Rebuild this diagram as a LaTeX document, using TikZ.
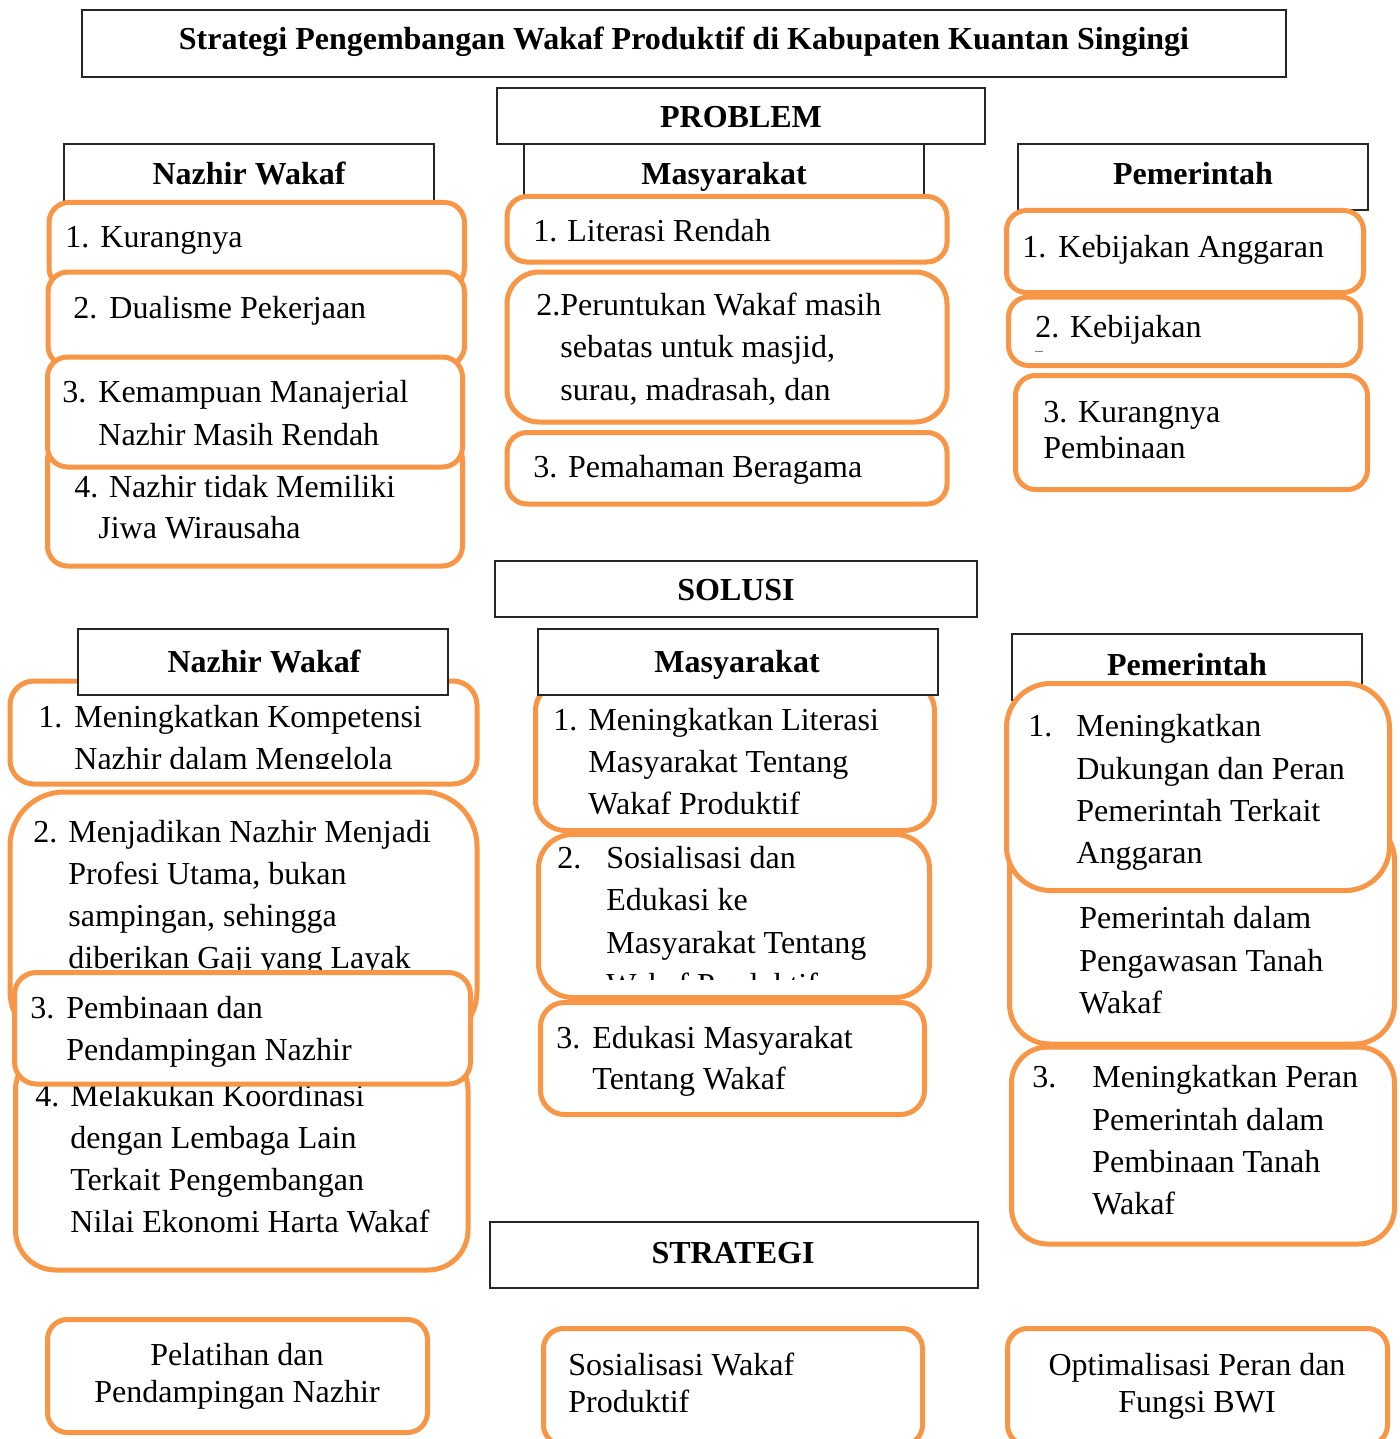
\documentclass[tikz,border=0pt]{standalone}
\usepackage{fontspec}
\setmainfont{Liberation Serif}
\definecolor{og}{RGB}{247,150,70}
\tikzset{
  tx/.style={inner sep=0pt, anchor=base west, font=\fontsize{16}{20}\selectfont},
  tcn/.style={inner sep=0pt, anchor=base, font=\fontsize{16}{20}\selectfont},
  hd/.style={inner sep=0pt, anchor=base, font=\bfseries\fontsize{16}{20}\selectfont},
  hbox/.style={draw=black!85, line width=0.75pt, fill=white},
  obox/.style={draw=og, line width=2.5pt, fill=white},
}
\newcommand\txl[4]{\node[tx] (#1) at (#2,#3) {#4};}
\newcommand\txc[4]{\node[tcn] (#1) at (#2,#3) {#4};}
\begin{document}
\begin{tikzpicture}[x=0.5pt,y=-0.5pt]
\useasboundingbox[fill=white] (0,0) rectangle (1400,1439);

% ---------- title ----------
\draw[hbox] (82,10) rectangle (1286,77);
\node[hd] (title) at (684,50) {Strategi Pengembangan Wakaf Produktif di Kabupaten Kuantan Singingi};

% ---------- PROBLEM ----------
\draw[hbox] (524,144) rectangle (924,210);
\node[hd] (pmh) at (724,185) {Masyarakat};
\draw[hbox] (497,88) rectangle (985,144);
\node[hd] (problem) at (741,128) {PROBLEM};

% Nazhir (problem)
\draw[hbox] (64,144) rectangle (434,215);
\node[hd] (pnh) at (249,185) {Nazhir Wakaf};
\draw[obox, rounded corners=10pt] (49,202.5) rectangle (464.5,288);
\txl{pn1a}{65}{248}{1.}
\txl{pn1b}{100}{248}{Kurangnya}
\draw[obox, rounded corners=10pt] (48,272) rectangle (464.5,366);
\txl{pn2a}{73}{318}{2.}
\txl{pn2b}{109}{318}{Dualisme Pekerjaan}
\draw[obox, rounded corners=10pt] (47.5,440) rectangle (462.5,566);
\txl{pn4a}{74}{497}{4. Nazhir tidak Memiliki}
\txl{pn4b}{98}{538}{Jiwa Wirausaha}
\draw[obox, rounded corners=10pt] (47.5,357) rectangle (462.5,467);
\txl{pn3a}{62}{402}{3.}
\txl{pn3b}{98}{402}{Kemampuan Manajerial}
\txl{pn3c}{98}{445}{Nazhir Masih Rendah}

% Masyarakat (problem)
\draw[obox, rounded corners=10pt] (507,196.5) rectangle (947,262);
\txl{pm1a}{533}{242}{1.}
\txl{pm1b}{567}{242}{Literasi Rendah}
\draw[obox, rounded corners=16pt] (507,272) rectangle (947,422);
\txl{pm2a}{536}{315}{2.Peruntukan Wakaf masih}
\txl{pm2b}{560}{357}{sebatas untuk masjid,}
\txl{pm2c}{560}{400}{surau, madrasah, dan}
\draw[obox, rounded corners=10pt] (507,432.5) rectangle (947,504);
\txl{pm3}{533}{477}{3. Pemahaman Beragama}

% Pemerintah (problem)
\draw[hbox] (1018,144) rectangle (1368,210);
\node[hd] (pph) at (1193,185) {Pemerintah};
\draw[obox, rounded corners=10pt] (1006.5,210.5) rectangle (1363.5,292.5);
\txl{pp1a}{1022}{257}{1.}
\txl{pp1b}{1058}{257}{Kebijakan Anggaran}
\draw[obox, rounded corners=10pt] (1008.5,297) rectangle (1360.5,365.5);
\txl{pp2}{1035}{337}{2. Kebijakan}
\draw[gray, line width=0.5pt] (1035,351) -- (1043,351);
\draw[obox, rounded corners=10pt] (1015.5,375.5) rectangle (1367.5,489.5);
\txl{pp3a}{1043}{422}{3. Kurangnya}
\txl{pp3b}{1043}{458}{Pembinaan}

% ---------- SOLUSI ----------
\draw[hbox] (495,561) rectangle (977,617);
\node[hd] (solusi) at (736,600) {SOLUSI};

% Nazhir (solusi)
\draw[obox, rounded corners=12pt] (10,681) rectangle (477,784);
\begin{scope}
\clip (0,0) rectangle (1400,768);
\txl{sn1a}{38}{727}{1.}
\txl{sn1b}{74}{727}{Meningkatkan Kompetensi}
\txl{sn1c}{74}{769}{Nazhir dalam Mengelola}
\end{scope}
\draw[hbox] (78,629) rectangle (448,695);
\node[hd] (snh) at (264,672) {Nazhir Wakaf};
\draw[obox, rounded corners=27pt] (10,792) rectangle (477,1045);
\begin{scope}
\clip (0,0) rectangle (1400,969);
\txl{sn2a}{33}{842}{2.}
\txl{sn2b}{68}{842}{Menjadikan Nazhir Menjadi}
\txl{sn2c}{68}{884}{Profesi Utama, bukan}
\txl{sn2d}{68}{926}{sampingan, sehingga}
\txl{sn2e}{68}{968}{diberikan Gaji yang Layak}
\end{scope}
\draw[obox, rounded corners=20pt] (15.5,1050) rectangle (468,1270);
\txl{sn4a}{35}{1106}{4.}
\txl{sn4b}{70}{1106}{Melakukan Koordinasi}
\txl{sn4c}{70}{1148}{dengan Lembaga Lain}
\txl{sn4d}{70}{1190}{Terkait Pengembangan}
\txl{sn4e}{70}{1232}{Nilai Ekonomi Harta Wakaf}
\draw[obox, rounded corners=11pt] (14.5,972.5) rectangle (470.5,1084);
\txl{sn3a}{30}{1018}{3.}
\txl{sn3b}{66}{1018}{Pembinaan dan}
\txl{sn3c}{66}{1060}{Pendampingan Nazhir}

% Masyarakat (solusi)
\draw[obox, rounded corners=15pt] (535.5,681) rectangle (934.5,830.5);
\begin{scope}
\clip (0,0) rectangle (1400,813);
\txl{sm1a}{553}{730}{1.}
\txl{sm1b}{588}{730}{Meningkatkan Literasi}
\txl{sm1c}{588}{772}{Masyarakat Tentang}
\txl{sm1d}{588}{814}{Wakaf Produktif}
\end{scope}
\draw[hbox] (538,629) rectangle (938,695);
\node[hd] (smh) at (737,672) {Masyarakat};
\draw[obox, rounded corners=17pt] (538.5,834.5) rectangle (929.5,997.5);
\begin{scope}
\clip (0,0) rectangle (1400,979);
\txl{sm2a}{557}{868}{2.}
\txl{sm2b}{606}{868}{Sosialisasi dan}
\txl{sm2c}{606}{910}{Edukasi ke}
\txl{sm2d}{606}{953}{Masyarakat Tentang}
\txl{sm2e}{606}{995}{Wakaf Produktif}
\end{scope}
\draw[obox, rounded corners=12pt] (540.5,1002.5) rectangle (924.5,1114.5);
\txl{sm3a}{556}{1048}{3.}
\txl{sm3b}{592}{1048}{Edukasi Masyarakat}
\txl{sm3c}{592}{1089}{Tentang Wakaf}

% Pemerintah (solusi)
\draw[hbox] (1012,634) rectangle (1362,700);
\node[hd] (sph) at (1187,675) {Pemerintah};
\draw[obox, rounded corners=20pt] (1009.5,820) rectangle (1394.5,1044);
\txl{sp2a}{1079}{928}{Pemerintah dalam}
\txl{sp2b}{1079}{971}{Pengawasan Tanah}
\txl{sp2c}{1079}{1013}{Wakaf}
\draw[obox, rounded corners=22pt] (1006.5,683.5) rectangle (1389.5,890.5);
\txl{sp1a}{1028}{736}{1.}
\txl{sp1b}{1076}{736}{Meningkatkan}
\txl{sp1c}{1076}{779}{Dukungan dan Peran}
\txl{sp1d}{1076}{821}{Pemerintah Terkait}
\txl{sp1e}{1076}{863}{Anggaran}
\draw[obox, rounded corners=18pt] (1011.5,1047) rectangle (1394.5,1244);
\txl{sp3a}{1032}{1087}{3.}
\txl{sp3b}{1092}{1087}{Meningkatkan Peran}
\txl{sp3c}{1092}{1130}{Pemerintah dalam}
\txl{sp3d}{1092}{1172}{Pembinaan Tanah}
\txl{sp3e}{1092}{1214}{Wakaf}

% ---------- STRATEGI ----------
\draw[hbox] (490,1222) rectangle (978,1288);
\node[hd] (strat) at (733,1263) {STRATEGI};

\draw[obox, rounded corners=10pt] (47.5,1319.5) rectangle (427.5,1432.5);
\txc{st1a}{237}{1365}{Pelatihan dan}
\txc{st1b}{237}{1402}{Pendampingan Nazhir}
\draw[obox, rounded corners=10pt] (543.5,1328.5) rectangle (922.5,1445);
\txl{st2a}{568}{1375}{Sosialisasi Wakaf}
\txl{st2b}{568}{1412}{Produktif}
\draw[obox, rounded corners=10pt] (1007.5,1328.5) rectangle (1387.5,1445);
\txc{st3a}{1197}{1375}{Optimalisasi Peran dan}
\txc{st3b}{1197}{1412}{Fungsi BWI}
\end{tikzpicture}
\end{document}
